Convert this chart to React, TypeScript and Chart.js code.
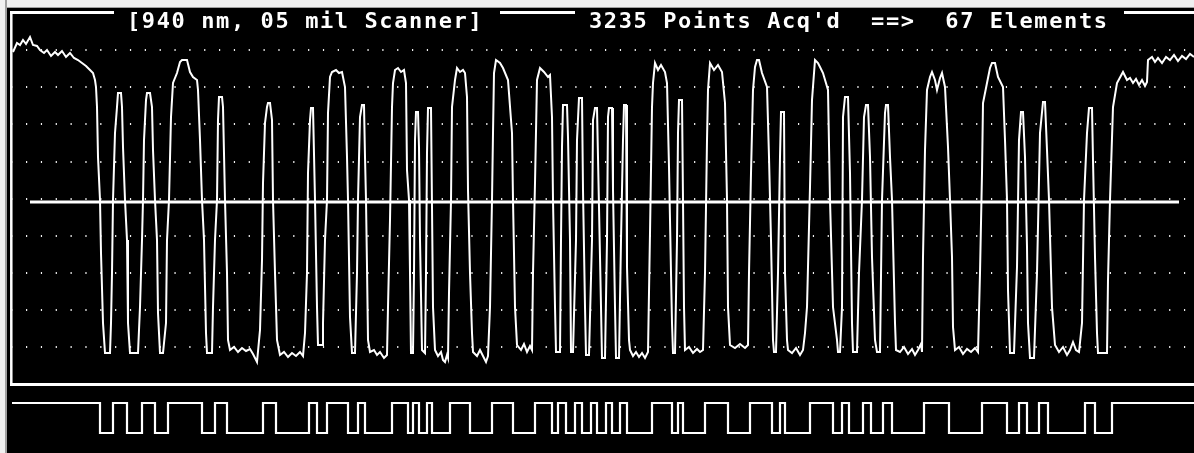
import React, { useEffect, useRef } from 'react';
import { Chart, registerables } from 'chart.js';

Chart.register(...registerables);

// ---- text ----
const TITLE_LEFT = '[940 nm, 05 mil Scanner]';
const TITLE_RIGHT = "3235 Points Acq'd  ==>  67 Elements";

// ---- analog scan trace: [screen column, reflectance level] ----
const SCAN_TRACE: [number, number][] = [
  [1, 295], [5, 304], [8, 302], [11, 307], [14, 303], [18, 310], [21, 302], [25, 301], [28, 297], [32, 294],
  [35, 297], [39, 291], [43, 295], [46, 292], [50, 296], [54, 290], [58, 294], [62, 289], [66, 287], [70, 284],
  [74, 281], [78, 277], [81, 274], [83, 267], [84, 260],
  [85, 240], [86, 190], [88, 147], [89, 94], [91, 24], [93, -6], [98, -6], [99, 24], [100, 74], [101, 147], [103, 214], [105, 240],
  [106, 254], [109, 254],
  [110, 240], [111, 200], [113, 147], [115, 107], [116, 24], [118, -6], [126, -6], [128, 40], [130, 107], [131, 147], [132, 207], [134, 247],
  [135, 254], [138, 254],
  [140, 240], [141, 197], [143, 147], [145, 107], [146, 34], [148, -6], [151, -6], [154, 24], [155, 107], [157, 147], [159, 230], [161, 264], [165, 274], [168, 285],
  [170, 287], [175, 287], [178, 275], [181, 270], [185, 267], [186, 257],
  [188, 207], [190, 147], [192, 107], [194, 14], [195, -6], [200, -6], [201, 40], [203, 107], [205, 147], [206, 227],
  [207, 250], [210, 250],
  [211, 240], [213, 147], [215, 74], [216, 7], [218, -3], [222, 0], [226, -5], [230, -1], [234, -4], [238, -2], [241, -7], [245, -15], [248, 17], [250, 87], [251, 164], [253, 224], [255, 240],
  [256, 244], [258, 244],
  [260, 227], [261, 147], [263, 74], [265, 7], [268, -8], [272, -5], [276, -10], [280, -6], [284, -9], [288, -5], [291, -9], [293, 14], [295, 74], [296, 174], [298, 227],
  [299, 239], [301, 239],
  [303, 147], [305, 40], [306, 2], [310, 2], [311, 24], [313, 107], [315, 147], [316, 234], [318, 270],
  [320, 275], [324, 277], [327, 274], [330, 275], [333, 260],
  [335, 190], [336, 147], [338, 30], [340, -6], [343, -6], [345, 74], [346, 147], [348, 230],
  [350, 242], [352, 242],
  [353, 190], [354, 147], [355, 80], [356, 7], [358, -5], [362, -3], [365, -8], [368, -5], [372, -11], [375, -8], [376, 40], [378, 127], [380, 240], [381, 264],
  [383, 277], [386, 279], [389, 275], [392, 277], [394, 264],
  [395, 177], [397, 147], [398, 74], [399, -6], [401, -6], [402, 74], [403, 207],
  [404, 235], [406, 235],
  [407, 200], [408, 107], [410, -3], [413, -6], [414, 74], [415, 194],
  [416, 239], [419, 239],
  [420, 140], [421, 40], [423, -3], [426, -9], [429, -5], [431, -13], [433, -15], [435, -8], [436, -11], [437, 54], [439, 147], [440, 240], [443, 267],
  [445, 279], [448, 275], [451, 277], [453, 274], [455, 250],
  [456, 157], [458, 74], [460, 14], [461, -5], [465, -9], [468, -3], [472, -11], [474, -15], [476, -9], [478, 40], [480, 147], [481, 214], [482, 274],
  [484, 287], [488, 284], [491, 279], [496, 267], [500, 214],
  [501, 147], [503, 40], [505, 2], [509, -3], [512, 3], [515, -5], [518, 1], [520, -3], [521, 74], [523, 164], [525, 267],
  [528, 279], [532, 275], [536, 270], [538, 272], [540, 230],
  [541, 147], [543, 40], [544, -5], [548, -5], [549, 107], [550, 200],
  [551, 242], [555, 242],
  [556, 210], [558, 107], [559, -5], [561, -5], [564, 107], [565, 207],
  [567, 249], [570, 249],
  [571, 157], [573, 40], [574, -8], [577, -8], [580, 107], [581, 227],
  [583, 239], [585, 239],
  [587, 140], [589, 40], [590, -11], [593, -11], [595, 107], [596, 230],
  [597, 239], [600, 239],
  [601, 157], [603, 40], [604, -11], [607, -11], [609, 107], [611, 207],
  [612, 242], [614, 242],
  [615, 80], [617, 7], [618, -3], [621, -9], [624, -5], [627, -10], [630, -6], [633, -11], [636, -5], [638, 114], [640, 240], [641, 264],
  [643, 284], [646, 277], [649, 282], [653, 275], [655, 264],
  [657, 180], [659, 74], [660, 24], [661, -6], [663, -6], [665, 107], [666, 214],
  [667, 247], [670, 247],
  [671, 147], [672, 40], [673, -3], [677, 0], [681, -6], [685, -2], [688, -5], [691, -3], [693, 74], [695, 207], [696, 257],
  [698, 284], [702, 277], [706, 282], [710, 275], [713, 244],
  [715, 147], [716, 40], [718, 2], [723, -1], [728, 3], [733, -1], [736, 2], [737, 74], [739, 174], [741, 257], [743, 280],
  [745, 287], [747, 287], [750, 274], [755, 260],
  [757, 190], [759, 107], [761, 7], [762, -5], [764, -5], [766, 74], [768, 190],
  [769, 235], [772, 235],
  [773, 74], [775, 7], [776, -3], [780, -6], [784, -1], [788, -8], [791, -3], [793, 14], [795, 40], [798, 160], [800, 247],
  [803, 287], [806, 284], [808, 280], [811, 274], [816, 257],
  [818, 147], [821, 40], [825, 7], [826, -5], [828, -5], [830, 40], [831, 230],
  [833, 250], [836, 250],
  [838, 174], [840, 24], [841, -5], [845, -5], [847, 74], [850, 147], [852, 230],
  [854, 242], [856, 242],
  [858, 190], [860, 90], [863, 7], [865, -5], [868, -5], [870, 147], [873, 234],
  [874, 242], [876, 242],
  [878, 190], [880, 147], [883, 24], [884, -3], [888, -5], [892, 0], [896, -7], [900, -2], [903, -8], [906, -3], [909, 3], [910, -5], [911, 90], [913, 197], [915, 257], [918, 270],
  [920, 275], [923, 267], [925, 257], [928, 269], [930, 274], [933, 260],
  [936, 200], [938, 147], [940, 90], [941, 20], [943, -3], [947, 0], [951, -7], [955, -2], [959, -5], [963, -1], [966, -5], [968, 74], [970, 174], [971, 244], [975, 264],
  [978, 279], [980, 284], [983, 284], [986, 270], [991, 260],
  [993, 207], [995, 147], [996, 57], [998, -6], [1002, -6], [1005, 80], [1007, 207],
  [1009, 235], [1011, 235],
  [1013, 190], [1015, 100], [1016, 24], [1018, -11], [1022, -11], [1025, 74], [1028, 214],
  [1031, 245], [1033, 245],
  [1035, 197], [1037, 147], [1040, 40], [1043, 2], [1047, -5], [1051, 0], [1055, -8], [1058, -3], [1061, 5], [1064, -3], [1067, -5], [1070, 24], [1072, 147], [1075, 214],
  [1077, 239], [1080, 239],
  [1081, 187], [1083, 90], [1085, 14], [1086, -6], [1095, -6], [1096, 67], [1098, 147], [1101, 240], [1105, 264],
  [1111, 275], [1115, 267], [1118, 269], [1121, 264], [1124, 268], [1127, 262], [1130, 267], [1133, 261], [1135, 265],
  [1136, 287], [1140, 290], [1143, 285], [1146, 289], [1150, 284], [1154, 290], [1158, 287], [1162, 292], [1166, 286],
  [1170, 291], [1174, 288], [1178, 293], [1182, 290],
];

// ---- decoded bars (screen columns where each bar starts / ends) ----
const BAR_START = [88, 115, 143, 190, 215, 264, 305, 336, 353, 396, 407, 420, 458, 501, 540, 554, 570, 585, 600, 615,
  660, 671, 716, 760, 773, 821, 837, 859, 880, 937, 995, 1015, 1036, 1083];
const BAR_END = [101, 130, 156, 203, 251, 297, 315, 346, 380, 401, 415, 438, 480, 523, 546, 563, 579, 594, 608, 640,
  666, 693, 738, 768, 798, 830, 851, 871, 912, 970, 1007, 1027, 1073, 1100];

// ---- scale / grid values ----
const COLUMN_COUNT = 1182;
const GRID_LEVELS = [0, 37.1, 74.2, 111.3, 148.4, 185.5, 222.6, 259.7, 296.8];
const THRESHOLD_LEVEL = 145;
const THRESHOLD_SPAN = [18, 1167];
const LEVEL_RANGE = [-106, 336];
const DIGITAL_RANGE = [-0.6667, 14.0667];

const framePlugin = {
  id: 'dosFrame',
  afterDraw(chart: any) {
    const ctx = chart.ctx as CanvasRenderingContext2D;
    ctx.save();
    ctx.strokeStyle = '#ffffff';
    ctx.lineCap = 'butt';
    ctx.lineWidth = 3;
    ctx.beginPath();
    ctx.moveTo(10, 12.5); ctx.lineTo(114, 12.5);
    ctx.moveTo(500, 12.5); ctx.lineTo(575, 12.5);
    ctx.moveTo(1124, 12.5); ctx.lineTo(1194, 12.5);
    ctx.moveTo(10, 384.5); ctx.lineTo(1194, 384.5);
    ctx.stroke();
    ctx.lineWidth = 2.5;
    ctx.beginPath();
    ctx.moveTo(11.3, 11); ctx.lineTo(11.3, 386);
    ctx.stroke();

    ctx.fillStyle = '#ffffff';
    ctx.font = 'bold 22px "DejaVu Sans Mono"';
    (ctx as any).letterSpacing = '1.6px';
    ctx.textBaseline = 'alphabetic';
    ctx.textAlign = 'left';
    ctx.fillText(TITLE_LEFT, 127, 27.5);
    ctx.fillText(TITLE_RIGHT, 589, 27.5);
    ctx.restore();
  },
};

export default function App() {
  const canvasRef = useRef<HTMLCanvasElement | null>(null);

  useEffect(() => {
    const canvas = canvasRef.current;
    if (!canvas) return;

    const digital: { x: number; y: number }[] = [{ x: 0, y: 1 }];
    BAR_START.forEach((s, i) => {
      digital.push({ x: s, y: 0 });
      digital.push({ x: BAR_END[i], y: 1 });
    });
    digital.push({ x: COLUMN_COUNT, y: 1 });

    const chart = new Chart(canvas, {
      type: 'line',
      data: {
        datasets: [
          {
            label: 'scan',
            data: SCAN_TRACE.map(([x, y]) => ({ x, y })),
            borderColor: '#ffffff',
            borderWidth: 2,
            pointRadius: 0,
            tension: 0,
            yAxisID: 'y',
          },
          {
            label: 'threshold',
            data: THRESHOLD_SPAN.map((x) => ({ x, y: THRESHOLD_LEVEL })),
            borderColor: '#ffffff',
            borderWidth: 3,
            pointRadius: 0,
            yAxisID: 'y',
          },
          {
            label: 'decoded',
            data: digital,
            stepped: 'before',
            borderColor: '#ffffff',
            borderWidth: 2.2,
            pointRadius: 0,
            yAxisID: 'yd',
          },
        ],
      },
      options: {
        animation: false,
        responsive: false,
        maintainAspectRatio: false,
        events: [],
        layout: { padding: { left: 12, top: 11, right: 0, bottom: 0 } },
        plugins: {
          legend: { display: false },
          tooltip: { enabled: false },
          title: { display: false },
        },
        scales: {
          x: { type: 'linear', min: 0, max: COLUMN_COUNT, display: false },
          y: {
            type: 'linear',
            min: LEVEL_RANGE[0],
            max: LEVEL_RANGE[1],
            display: true,
            position: 'left',
            ticks: { display: false },
            grid: { color: '#f0f0f0', lineWidth: 2, drawTicks: false, tickLength: 0 },
            border: { display: false, dash: [1.2, 13.646], dashOffset: 0.846 },
            afterBuildTicks: (scale: any) => {
              scale.ticks = GRID_LEVELS.map((v) => ({ value: v }));
            },
          },
          yd: { type: 'linear', min: DIGITAL_RANGE[0], max: DIGITAL_RANGE[1], display: false },
        },
      } as any,
      plugins: [framePlugin],
    });

    return () => chart.destroy();
  }, []);

  return (
    <div style={{ position: 'fixed', left: 0, top: 0, width: 1194, height: 453, background: '#000', overflow: 'hidden' }}>
      <canvas ref={canvasRef} width={1194} height={453} style={{ position: 'absolute', left: 0, top: 0, width: 1194, height: 453 }} />
      <div style={{ position: 'absolute', left: 0, top: 0, width: 1194, height: 7, background: '#f0f0f0', borderBottom: '1px solid #a0a0a0' }} />
      <div style={{ position: 'absolute', left: 0, top: 0, width: 5, height: 453, background: '#f0f0f0', borderRight: '2px solid #a0a0a0' }} />
    </div>
  );
}
